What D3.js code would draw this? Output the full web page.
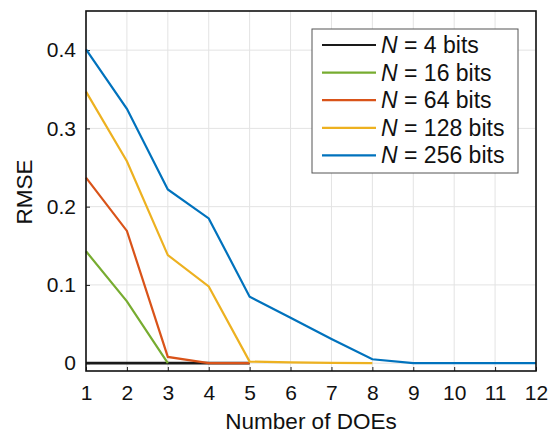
<!DOCTYPE html>
<html>
<head>
<meta charset="utf-8">
<script src="https://cdn.jsdelivr.net/npm/d3@7"></script>
<style>
  body { margin: 0; background: #fff; }
  svg text { font-family: "Liberation Sans", Arial, sans-serif; fill: #111; }
</style>
</head>
<body>
<div id="chart"></div>
<script>
var does = [1, 2, 3, 4, 5, 6, 7, 8, 9, 10, 11, 12];
var labels = ['4', '16', '64', '128', '256'];
var colors = ['#1a1a1a', '#77AC30', '#D95319', '#EDB120', '#0072BD'];
var rmse4 = [0, 0, 0, 0, 0];
var rmse16 = [0.143, 0.079, 0];
var rmse64 = [0.237, 0.169, 0.008, 0, 0];
var rmse128 = [0.347, 0.258, 0.138, 0.098, 0.002, 0.001, 0.0005, 0];
var rmse256 = [0.401, 0.325, 0.222, 0.185, 0.085, 0.058, 0.031, 0.005, 0, 0, 0, 0];
var yTicks = [0, 0.1, 0.2, 0.3, 0.4];

var series = [rmse4, rmse16, rmse64, rmse128, rmse256];

var width = 550, height = 435;
var margin = { left: 86, right: 14, top: 11, bottom: 64 };

var svg = d3.select('#chart').append('svg')
    .attr('width', width)
    .attr('height', height);

var x = d3.scaleLinear().domain([1, 12]).range([margin.left, width - margin.right]);
var y = d3.scaleLinear().domain([-0.01, 0.45]).range([height - margin.bottom, margin.top]);

// grid
svg.append('g').selectAll('line').data(does).enter().append('line')
    .attr('x1', function(d) { return x(d); }).attr('x2', function(d) { return x(d); })
    .attr('y1', y.range()[0]).attr('y2', y.range()[1])
    .attr('stroke', '#e3e3e3').attr('stroke-width', 1);
svg.append('g').selectAll('line').data(yTicks).enter().append('line')
    .attr('y1', function(d) { return y(d); }).attr('y2', function(d) { return y(d); })
    .attr('x1', x.range()[0]).attr('x2', x.range()[1])
    .attr('stroke', '#e3e3e3').attr('stroke-width', 1);

// axes
var xAxis = svg.append('g')
    .attr('transform', 'translate(0,' + y.range()[0] + ')')
    .call(d3.axisBottom(x).tickValues(does).tickSize(-4).tickPadding(14).tickFormat(d3.format('d')));
var yAxis = svg.append('g')
    .attr('transform', 'translate(' + x.range()[0] + ',0)')
    .call(d3.axisLeft(y).tickValues(yTicks).tickSize(-4).tickPadding(10)
        .tickFormat(function(d) { return d === 0 ? '0' : d3.format('.1f')(d); }));
[xAxis, yAxis].forEach(function(a) {
    a.select('.domain').remove();
    a.selectAll('.tick line').attr('stroke', '#222');
    a.selectAll('text').style('font-size', '21px').attr('fill', '#111');
});

// lines
var line = d3.line()
    .x(function(d, i) { return x(does[i]); })
    .y(function(d) { return y(d); });

svg.append('g').selectAll('path').data(series).enter().append('path')
    .attr('d', line)
    .attr('fill', 'none')
    .attr('stroke', function(d, i) { return colors[i]; })
    .attr('stroke-width', function(d, i) { return i === 0 ? 2.6 : 2.2; });

// frame
svg.append('rect')
    .attr('x', x.range()[0]).attr('y', y.range()[1])
    .attr('width', x.range()[1] - x.range()[0])
    .attr('height', y.range()[0] - y.range()[1])
    .attr('fill', 'none').attr('stroke', '#111').attr('stroke-width', 1.6);

// axis titles
svg.append('text')
    .attr('x', (x.range()[0] + x.range()[1]) / 2)
    .attr('y', 429)
    .attr('text-anchor', 'middle')
    .style('font-size', '22.5px')
    .text('Number of DOEs');
svg.append('text')
    .attr('transform', 'translate(32,192) rotate(-90)')
    .attr('text-anchor', 'middle')
    .style('font-size', '22.5px')
    .text('RMSE');

// legend
var lg = svg.append('g').attr('transform', 'translate(312,29)');
lg.append('rect')
    .attr('width', 206).attr('height', 144)
    .attr('fill', '#fff').attr('stroke', '#555').attr('stroke-width', 1);
var item = lg.selectAll('.item').data(labels).enter().append('g')
    .attr('transform', function(d, i) { return 'translate(0,' + (16 + i * 27.6) + ')'; });
item.append('line')
    .attr('x1', 10).attr('x2', 64)
    .attr('stroke', function(d, i) { return colors[i]; })
    .attr('stroke-width', 2.2);
var t = item.append('text')
    .attr('x', 69).attr('dy', '0.35em')
    .style('font-size', '23px');
t.append('tspan').style('font-style', 'italic').text('N');
t.append('tspan').text(function(d) { return ' = ' + d + ' bits'; });
</script>
</body>
</html>
